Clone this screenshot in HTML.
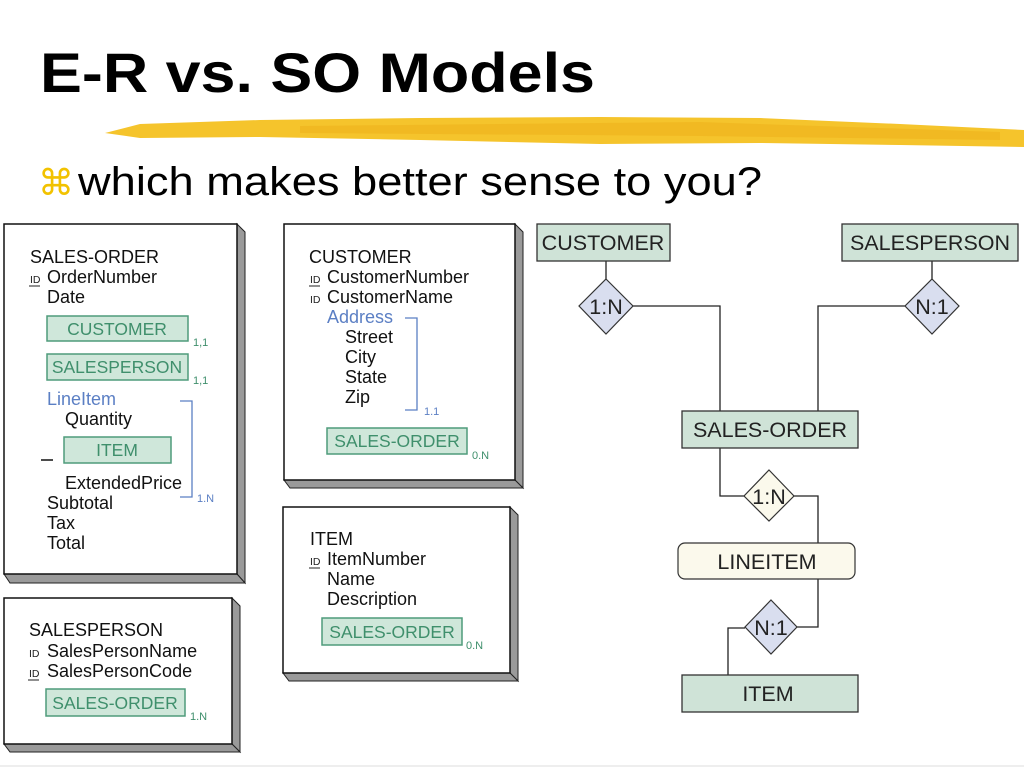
<!DOCTYPE html>
<html><head><meta charset="utf-8"><style>
html,body{margin:0;padding:0;background:#fff;}
svg{display:block;font-family:"Liberation Sans",Arial,sans-serif;}
.t{font-size:18px;fill:#111;}
.b{font-size:18px;fill:#5b7fc4;}
.g{font-size:17.5px;fill:#3f8f6c;}
.s{font-size:11px;fill:#3f8f6c;}
.sb{font-size:11px;fill:#5b7fc4;}
.id{font-size:10.5px;fill:#222;}
.gb{fill:#cfe7da;stroke:#4f9b7b;stroke-width:1.5;}
.e{fill:#cfe3d7;stroke:#333;stroke-width:1.3;}
.et{font-size:21.5px;fill:#222;}
.ln{stroke:#222;stroke-width:1.3;fill:none;}
.dm{fill:#d9deef;stroke:#333;stroke-width:1.2;}
.sh{fill:#9a9a9a;stroke:#222;stroke-width:1;}
.fr{fill:#fff;stroke:#111;stroke-width:1.5;}
</style></head><body>
<svg width="1024" height="768" viewBox="0 0 1024 768" xmlns="http://www.w3.org/2000/svg">
<text x="40" y="92" font-size="56" font-weight="bold" fill="#000" textLength="555" lengthAdjust="spacingAndGlyphs">E-R vs. SO Models</text>
<polygon points="105,133 140,124 260,120 420,118 600,117 760,118 900,124 1024,130 1024,147 900,145 760,143 600,144 420,140 260,137 140,138" fill="#f5c42c"/>
<polygon points="300,126 700,122 1000,132 1000,140 700,136 300,133" fill="#eeb21c" opacity="0.6"/>
<text x="38" y="195" font-size="36" fill="#f2c200">⌘</text>
<text x="78" y="195" font-size="40" fill="#000" textLength="684" lengthAdjust="spacingAndGlyphs">which makes better sense to you?</text>

<!-- card SALES-ORDER -->
<polygon class="sh" points="237,224 245,232 245,583 237,574"/>
<polygon class="sh" points="4,574 237,574 245,583 10,583"/>
<rect class="fr" x="4" y="224" width="233" height="350"/>
<text class="t" x="30" y="263">SALES-ORDER</text>
<text class="id" x="30" y="283">ID</text><line x1="29" y1="286" x2="40" y2="286" stroke="#222"/>
<text class="t" x="47" y="283">OrderNumber</text>
<text class="t" x="47" y="303">Date</text>
<rect class="gb" x="47" y="316" width="141" height="25"/><text class="g" x="117" y="335" text-anchor="middle">CUSTOMER</text>
<text class="s" x="193" y="346">1,1</text>
<rect class="gb" x="47" y="354" width="141" height="26"/><text class="g" x="117" y="373" text-anchor="middle">SALESPERSON</text>
<text class="s" x="193" y="384">1,1</text>
<text class="b" x="47" y="405">LineItem</text>
<text class="t" x="65" y="425">Quantity</text>
<rect class="gb" x="64" y="437" width="107" height="26"/><text class="g" x="117" y="456" text-anchor="middle">ITEM</text>
<line x1="41" y1="460" x2="53" y2="460" stroke="#111" stroke-width="1.5"/>
<text class="t" x="65" y="489">ExtendedPrice</text>
<polyline points="180,401 192,401 192,497 180,497" fill="none" stroke="#5b7fc4" stroke-width="1.3"/>
<text class="sb" x="197" y="502">1.N</text>
<text class="t" x="47" y="509">Subtotal</text>
<text class="t" x="47" y="529">Tax</text>
<text class="t" x="47" y="549">Total</text>

<!-- card SALESPERSON -->
<polygon class="sh" points="232,598 240,606 240,752 232,744"/>
<polygon class="sh" points="4,744 232,744 240,752 10,752"/>
<rect class="fr" x="4" y="598" width="228" height="146"/>
<text class="t" x="29" y="636">SALESPERSON</text>
<text class="id" x="29" y="657">ID</text>
<text class="t" x="47" y="657">SalesPersonName</text>
<text class="id" x="29" y="677">ID</text><line x1="28" y1="680" x2="39" y2="680" stroke="#222"/>
<text class="t" x="47" y="677">SalesPersonCode</text>
<rect class="gb" x="46" y="689" width="139" height="27"/><text class="g" x="115" y="709" text-anchor="middle">SALES-ORDER</text>
<text class="s" x="190" y="720">1.N</text>

<!-- card CUSTOMER -->
<polygon class="sh" points="515,224 523,232 523,488 515,480"/>
<polygon class="sh" points="284,480 515,480 523,488 290,488"/>
<rect class="fr" x="284" y="224" width="231" height="256"/>
<text class="t" x="309" y="263">CUSTOMER</text>
<text class="id" x="310" y="283">ID</text><line x1="309" y1="286" x2="320" y2="286" stroke="#222"/>
<text class="t" x="327" y="283">CustomerNumber</text>
<text class="id" x="310" y="303">ID</text>
<text class="t" x="327" y="303">CustomerName</text>
<text class="b" x="327" y="323">Address</text>
<text class="t" x="345" y="343">Street</text>
<text class="t" x="345" y="363">City</text>
<text class="t" x="345" y="383">State</text>
<text class="t" x="345" y="403">Zip</text>
<polyline points="405,318 417,318 417,410 405,410" fill="none" stroke="#5b7fc4" stroke-width="1.3"/>
<text class="sb" x="424" y="415">1.1</text>
<rect class="gb" x="327" y="428" width="140" height="26"/><text class="g" x="397" y="447" text-anchor="middle">SALES-ORDER</text>
<text class="s" x="472" y="459">0.N</text>

<!-- card ITEM -->
<polygon class="sh" points="510,507 518,515 518,681 510,673"/>
<polygon class="sh" points="283,673 510,673 518,681 289,681"/>
<rect class="fr" x="283" y="507" width="227" height="166"/>
<text class="t" x="310" y="545">ITEM</text>
<text class="id" x="310" y="565">ID</text><line x1="309" y1="568" x2="320" y2="568" stroke="#222"/>
<text class="t" x="327" y="565">ItemNumber</text>
<text class="t" x="327" y="585">Name</text>
<text class="t" x="327" y="605">Description</text>
<rect class="gb" x="322" y="618" width="140" height="27"/><text class="g" x="392" y="638" text-anchor="middle">SALES-ORDER</text>
<text class="s" x="466" y="649">0.N</text>

<!-- ER diagram -->
<polyline class="ln" points="606,261 606,280"/>
<polyline class="ln" points="633,306 720,306 720,411"/>
<polyline class="ln" points="932,261 932,280"/>
<polyline class="ln" points="905,306 818,306 818,411"/>
<polyline class="ln" points="720,448 720,496 744,496"/>
<polyline class="ln" points="794,496 818,496 818,543"/>
<polyline class="ln" points="818,579 818,627 797,627"/>
<polyline class="ln" points="745,628 728,628 728,675"/>

<rect class="e" x="537" y="224" width="133" height="37"/><text class="et" x="603" y="250" text-anchor="middle">CUSTOMER</text>
<rect class="e" x="842" y="224" width="176" height="37"/><text class="et" x="930" y="250" text-anchor="middle">SALESPERSON</text>
<polygon class="dm" points="606,279 633,306 606,334 579,306"/><text class="et" x="606" y="314" text-anchor="middle">1:N</text>
<polygon class="dm" points="932,279 959,306 932,334 905,306"/><text class="et" x="932" y="314" text-anchor="middle">N:1</text>
<rect class="e" x="682" y="411" width="176" height="37"/><text class="et" x="770" y="437" text-anchor="middle">SALES-ORDER</text>
<polygon points="769,470 794,496 769,521 744,496" fill="#fbf9ec" stroke="#333" stroke-width="1.2"/><text class="et" x="769" y="504" text-anchor="middle">1:N</text>
<rect x="678" y="543" width="177" height="36" rx="7" fill="#fbf9ec" stroke="#333" stroke-width="1.2"/><text class="et" x="767" y="569" text-anchor="middle">LINEITEM</text>
<polygon class="dm" points="771,600 797,627 771,654 745,627"/><text class="et" x="771" y="635" text-anchor="middle">N:1</text>
<rect class="e" x="682" y="675" width="176" height="37"/><text class="et" x="768" y="701" text-anchor="middle">ITEM</text>

<line x1="0" y1="766" x2="1024" y2="766" stroke="#eee" stroke-width="2"/>
</svg>
</body></html>
